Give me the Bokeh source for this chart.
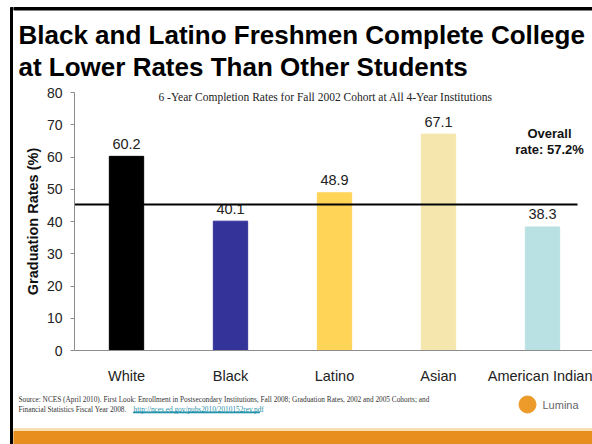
from bokeh.plotting import figure
from bokeh.models import Range1d, FixedTicker, ColumnDataSource
from bokeh.layouts import row, column
from bokeh.core.properties import value
from bokeh.embed import file_html
from bokeh.resources import INLINE

# ---- data ----
categories = ["White", "Black", "Latino", "Asian", "American Indian"]
rates = [60.2, 40.1, 48.9, 67.1, 38.3]
bar_colors = ["#000000", "#333399", "#FFD457", "#F5E6AE", "#B9E0E3"]
y_ticks = [0, 10, 20, 30, 40, 50, 60, 70, 80]
overall_line_value = 45.3
title_lines = ["Black and Latino Freshmen Complete College",
               "at Lower Rates Than Other Students"]
subtitle = "6 -Year Completion Rates for Fall 2002 Cohort at All 4-Year Institutions"
overall_lines = ["Overall", "rate: 57.2%"]
source_line1 = ("Source: NCES (April 2010).  First Look: Enrollment in Postsecondary Institutions, "
                "Fall 2008; Graduation Rates, 2002 and 2005 Cohorts; and")
source_line2 = "Financial Statistics Fiscal Year 2008."
source_link = "http://nces.ed.gov/pubs2010/2010152rev.pdf"

W, H = 592, 444
STRIP = 13            # left strip width (slide border)
HEAD = 84             # header height
MAIN_H = 310          # main chart height
FOOT = H - HEAD - MAIN_H
CW = W - STRIP        # content width
FL, FT, FB = 74, 92, 350     # absolute frame left/top/bottom
CAT_PX = 104
PX_PER_UNIT = (FB - FT) / 80

SANS = "Liberation Sans"
SERIF = "Liberation Serif"


def blank(width, height):
    f = figure(width=width, height=height, output_backend="svg", toolbar_location=None,
               x_range=Range1d(0, width), y_range=Range1d(height, 0),
               min_border=0, min_border_left=0, min_border_right=0,
               min_border_top=0, min_border_bottom=0)
    f.axis.visible = False
    f.grid.visible = False
    f.outline_line_color = None
    f.background_fill_color = "white"
    f.border_fill_color = "white"
    return f


def txt(f, s, x, y, size, font=SANS, style="normal", color="#111111", align="left"):
    f.text(x=[x], y=[y], text=[s], text_font=value(font), text_font_size=size,
           text_font_style=style, text_color=color, text_align=align,
           text_baseline="middle")


# ---- left strip: slide border ----
strip = blank(STRIP, H)
strip.quad(left=[10], right=[12.5], top=[7], bottom=[H], color="black")

# ---- header ----
head = blank(CW, HEAD)
head.quad(left=[0], right=[CW], top=[7], bottom=[9.5], color="black")
txt(head, title_lines[0], 18 - STRIP, 34, "26px", style="bold", color="#000000")
txt(head, title_lines[1], 18 - STRIP, 66, "26px", style="bold", color="#000000")

# ---- main chart ----
xs = list(range(len(categories)))
src = ColumnDataSource(dict(x=xs, rate=rates, color=bar_colors,
                            label=[f"{r:.1f}" for r in rates],
                            label_y=[r + 12.5 / PX_PER_UNIT for r in rates]))
x_end = -0.5 + (W - FL) / CAT_PX
p = figure(width=CW, height=MAIN_H, output_backend="svg", toolbar_location=None,
           x_range=Range1d(-0.5, x_end), y_range=Range1d(0, 80),
           min_border_left=FL - STRIP, min_border_right=0,
           min_border_top=FT - HEAD, min_border_bottom=HEAD + MAIN_H - FB)
p.outline_line_color = None
p.xgrid.grid_line_color = None
p.ygrid.grid_line_color = None
p.background_fill_color = "white"
p.border_fill_color = "white"

p.yaxis.ticker = FixedTicker(ticks=y_ticks)
p.yaxis.minor_tick_line_color = None
p.yaxis.axis_line_color = "#8c8c8c"
p.yaxis.major_tick_line_color = "#8c8c8c"
p.yaxis.major_tick_in = 0
p.yaxis.major_tick_out = 4
p.yaxis.major_label_standoff = 8
p.yaxis.major_label_text_font = SANS
p.yaxis.major_label_text_font_size = "14px"
p.yaxis.major_label_text_color = "#222222"
p.yaxis.axis_label = "Graduation Rates (%)"
p.yaxis.axis_label_text_font = SANS
p.yaxis.axis_label_text_font_style = "bold"
p.yaxis.axis_label_text_font_size = "14.5px"
p.yaxis.axis_label_text_color = "#111111"
p.yaxis.axis_label_standoff = 3

p.xaxis.ticker = FixedTicker(ticks=xs)
p.xaxis.major_label_overrides = {i: c for i, c in enumerate(categories)}
p.xaxis.minor_tick_line_color = None
p.xaxis.major_tick_line_color = None
p.xaxis.axis_line_color = "#8c8c8c"
p.xaxis.major_label_standoff = 11
p.xaxis.major_label_text_font = SANS
p.xaxis.major_label_text_font_size = "14.5px"
p.xaxis.major_label_text_color = "#222222"

p.vbar(x="x", top="rate", width=0.33, color="color", source=src)
p.text(x="x", y="label_y", text="label", source=src, text_align="center",
       text_baseline="middle", text_font_size="14.5px",
       text_color="#222222", text_font=value(SANS))

# overall reference line (ends short of the right edge)
p.segment(x0=[-0.5], x1=[-0.5 + (577 - FL) / CAT_PX],
          y0=[overall_line_value], y1=[overall_line_value],
          line_color="black", line_width=2)


def px_x(px):
    return -0.5 + (px - FL) / CAT_PX


def px_y(py):
    return (FB - py) / PX_PER_UNIT


txt(p, subtitle, px_x(325), px_y(96), "11.5px", font=SERIF, color="#222222", align="center")
txt(p, overall_lines[0], px_x(549), px_y(133), "13px", style="bold", align="center")
txt(p, overall_lines[1], px_x(549), px_y(149), "13px", style="bold", align="center")

# ---- footer ----
foot = blank(CW, FOOT)
y0 = HEAD + MAIN_H
txt(foot, source_line1, 18 - STRIP, 398.5 - y0, "7.3px", font=SERIF, color="#333333")
txt(foot, source_line2, 18 - STRIP, 408.5 - y0, "7.3px", font=SERIF, color="#333333")
txt(foot, source_link, 133 - STRIP, 408.5 - y0, "7.3px", font=SERIF, color="#1F8FA8")
foot.quad(left=[133 - STRIP], right=[259 - STRIP], top=[411.5 - y0], bottom=[412.3 - y0],
          color="#1F8FA8")
foot.scatter(x=[527 - STRIP], y=[404 - y0], size=17, color="#EC9A2A")
txt(foot, "Lumina", 542 - STRIP, 404 - y0, "11px", color="#666666")
foot.quad(left=[0], right=[CW], top=[428 - y0], bottom=[431 - y0], color="#F9DDB0")
foot.quad(left=[0], right=[CW], top=[431 - y0], bottom=[FOOT], color="#E88E1E")

layout = row(strip, column(head, row(p, spacing=0), foot, spacing=0), spacing=0)
open("out.html", "w").write(file_html(layout, INLINE))
